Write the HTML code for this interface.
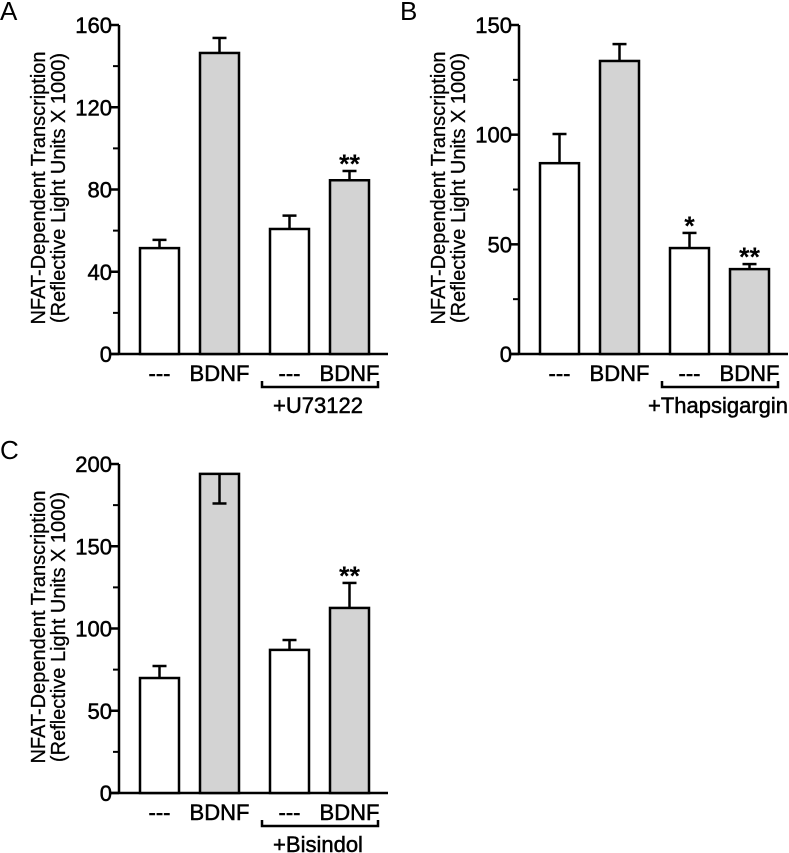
<!DOCTYPE html>
<html><head><meta charset="utf-8"><style>
html,body{margin:0;padding:0;background:#fff;}
svg{display:block;font-family:"Liberation Sans",Arial,sans-serif;}
</style></head><body>
<svg id="fig" width="789" height="853" viewBox="0 0 789 853" xmlns="http://www.w3.org/2000/svg"></svg>
<script>
const categories = ["---", "BDNF", "---", "BDNF"];
const fills = ["#fff", "#d3d3d3", "#fff", "#d3d3d3"];
const valuesA = [51.5, 146.4, 60.8, 84.5];
const errorsA = [4, 7.3, 6.5, 4.5];
const starsA = ["", "", "", "**"];
const ticksA = [0, 40, 80, 120, 160];
const valuesB = [87, 133.6, 48.3, 38.7];
const errorsB = [13.3, 7.7, 6.9, 2.3];
const starsB = ["", "", "*", "**"];
const ticksB = [0, 50, 100, 150];
const valuesC = [69.9, 194, 87, 112.5];
const errorsC = [7.3, -18, 6, 15.2];
const starsC = ["", "", "", "**"];
const ticksC = [0, 50, 100, 150, 200];

const NS = "http://www.w3.org/2000/svg";
const svg = document.getElementById("fig");
function mk(tag, attrs, parent, text) {
  const e = document.createElementNS(NS, tag);
  for (const k in attrs) e.setAttribute(k, attrs[k]);
  if (text !== undefined) e.textContent = text;
  (parent || svg).appendChild(e);
  return e;
}
function panel(letter, ox, oy, yMax, ticks, values, errors, stars, treat) {
  const g = mk("g", {});
  
  
  const ax = ox + 119, y0 = oy + 354, yTop = oy + 25;
  const ys = v => y0 - (v / yMax) * (y0 - yTop);
  const lt = mk("text", {x: ox + 0, y: oy + 20, "font-size": 26}, g, letter);
  
  
  const t1 = mk("text", {transform: `translate(${ox + 45},${oy + 188}) rotate(-90)`, "text-anchor": "middle", "font-size": 20, "stroke": "#000", "stroke-width": 0.3}, g, "NFAT-Dependent Transcription");
  
  
  const t2 = mk("text", {transform: `translate(${ox + 65},${oy + 188}) rotate(-90)`, "text-anchor": "middle", "font-size": 20, "stroke": "#000", "stroke-width": 0.3}, g, "(Reflective Light Units X 1000)");
  
  
  const ya = mk("line", {x1: ax, y1: yTop, x2: ax, y2: y0, stroke: "#000", "stroke-width": 2.5}, g);
  
  
  for (let i = 0; i < ticks.length; i++) {
    const y = ys(ticks[i]);
    mk("line", {x1: ax - 9, y1: y, x2: ax, y2: y, stroke: "#000", "stroke-width": 2.5}, g);
    const tl = mk("text", {x: ax - 7, y: y + 8, "text-anchor": "end", "font-size": 22, "stroke": "#000", "stroke-width": 0.5}, g, ticks[i]);
    
    
    if (i < ticks.length - 1) {
      const ym = ys((ticks[i] + ticks[i + 1]) / 2);
      mk("line", {x1: ax - 6, y1: ym, x2: ax, y2: ym, stroke: "#000", "stroke-width": 2}, g);
    }
  }
  const xa = mk("line", {x1: ax - 9, y1: y0, x2: ox + 388, y2: y0, stroke: "#000", "stroke-width": 2.5}, g);
  
  
  const bx = [140, 200, 270, 330];
  for (let i = 0; i < values.length; i++) {
    const x = ox + bx[i], w = 39, top = ys(values[i]), cx = x + w / 2;
    const ey = ys(values[i] + errors[i]);
    const r = mk("rect", {x: x, y: top, width: w, height: y0 - top, fill: fills[i], stroke: "#000", "stroke-width": 2.5}, g);
    
    
    mk("line", {x1: cx, y1: top, x2: cx, y2: ey, stroke: "#000", "stroke-width": 2.5}, g);
    mk("line", {x1: cx - 7, y1: ey, x2: cx + 7, y2: ey, stroke: "#000", "stroke-width": 2.5}, g);
    if (stars[i]) {
      const st = mk("text", {x: cx, y: Math.min(ey, top) + 2, "text-anchor": "middle", "font-size": 27, "font-weight": "bold"}, g, stars[i]);
      
      
    }
    const cl = mk("text", {x: cx, y: y0 + 27, "text-anchor": "middle", "font-size": 22, "stroke": "#000", "stroke-width": 0.5}, g, categories[i]);
    
    
  }
  const br = mk("path", {d: `M${ox + 262},${oy + 381} V${oy + 387} H${ox + 378} V${oy + 381}`, fill: "none", stroke: "#000", "stroke-width": 2.5}, g);
  
  
  const tt = mk("text", {x: ox + 318, y: oy + 413, "text-anchor": "middle", "font-size": 22, "stroke": "#000", "stroke-width": 0.5}, g, treat);
  
  
}
panel("A", 0, 0, 160, ticksA, valuesA, errorsA, starsA, "+U73122");
panel("B", 400, 0, 150, ticksB, valuesB, errorsB, starsB, "+Thapsigargin");
panel("C", 0, 439, 200, ticksC, valuesC, errorsC, starsC, "+Bisindol");
</script>
</body></html>
